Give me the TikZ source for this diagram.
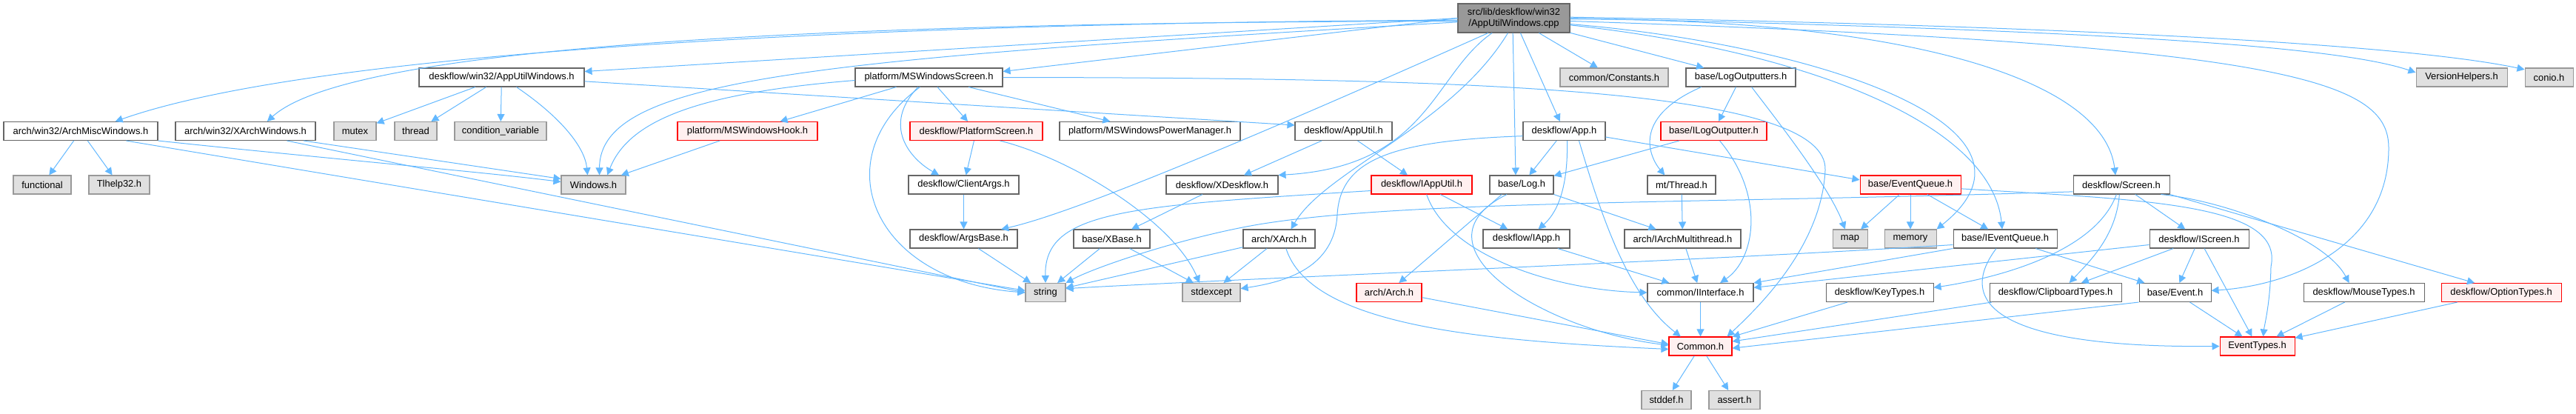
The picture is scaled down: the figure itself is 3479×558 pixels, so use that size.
\documentclass[tikz,border=0pt]{standalone}
\usepackage{fontspec}
\setmainfont{Liberation Sans}
\usepackage{tikz}
\usetikzlibrary{arrows.meta}
\definecolor{EdgeBlue}{RGB}{99,184,255}
\definecolor{BoxLine}{RGB}{102,102,102}
\definecolor{SysFill}{RGB}{224,224,224}
\definecolor{SysLine}{RGB}{153,153,153}
\definecolor{CutFill}{RGB}{255,240,240}
\definecolor{CutLine}{RGB}{255,0,0}
\definecolor{RootFill}{RGB}{153,153,153}

\begin{document}
\begin{tikzpicture}[x=0.75pt, y=-0.75pt,
    hdr/.style={rectangle, draw=BoxLine, fill=white, line width=0.8pt, minimum height=18.75pt, inner xsep=1pt, inner ysep=0pt, font=\fontsize{9.7}{11.25}\selectfont},
    sys/.style={hdr, draw=SysLine, fill=SysFill},
    cut/.style={hdr, draw=CutLine, fill=CutFill},
    rootbox/.style={hdr, fill=RootFill, minimum height=29.25pt, align=center},
    arr/.style={-{Triangle[length=7.5pt,width=7.5pt]}, line width=0.75pt, EdgeBlue}
  ]
  \useasboundingbox (0,0) rectangle (3479,558);

  \node[rootbox, minimum width=113.25pt] (root) at (2044.5,24.5) {src/lib/deskflow/win32\\/AppUtilWindows.cpp};

  \node[hdr, minimum width=167.25pt] (auwh) at (677.5,104.5) {deskflow/win32/AppUtilWindows.h};
  \node[hdr, minimum width=149.25pt] (msws) at (1254.5,104.5) {platform/MSWindowsScreen.h};
  \node[sys, minimum width=109.5pt] (const) at (2180,104.5) {common/Constants.h};
  \node[hdr, minimum width=111pt] (lout) at (2351,104.5) {base/LogOutputters.h};
  \node[sys, minimum width=92.25pt] (verh) at (3324.5,104.5) {VersionHelpers.h};
  \node[sys, minimum width=48.75pt] (conio) at (3442.5,104.5) {conio.h};

  \node[hdr, minimum width=156pt] (am) at (109,177) {arch/win32/ArchMiscWindows.h};
  \node[hdr, minimum width=141.75pt] (xaw) at (331.5,177) {arch/win32/XArchWindows.h};
  \node[sys, minimum width=42.75pt] (mutex) at (479.5,177) {mutex};
  \node[sys, minimum width=42.75pt] (thread) at (561.5,177) {thread};
  \node[sys, minimum width=93pt] (condvar) at (676,177) {condition\_variable};
  \node[cut, minimum width=141.75pt] (hook) at (1009.5,177) {platform/MSWindowsHook.h};
  \node[cut, minimum width=134.25pt] (ps) at (1318.5,177) {deskflow/PlatformScreen.h};
  \node[hdr, minimum width=183pt] (pm) at (1553,177) {platform/MSWindowsPowerManager.h};
  \node[hdr, minimum width=98.25pt] (au) at (1814.5,177) {deskflow/AppUtil.h};
  \node[hdr, minimum width=83.25pt] (app) at (2112.5,177) {deskflow/App.h};
  \node[cut, minimum width=107.25pt] (ilo) at (2314.5,177) {base/ILogOutputter.h};

  \node[sys, minimum width=58.5pt] (func) at (57,249.5) {functional};
  \node[sys, minimum width=61.5pt] (tlh) at (161,249.5) {Tlhelp32.h};
  \node[sys, minimum width=65.25pt] (win) at (801.5,249.5) {Windows.h};
  \node[hdr, minimum width=111.75pt] (ca) at (1301.5,249.5) {deskflow/ClientArgs.h};
  \node[hdr, minimum width=113.25pt] (xdf) at (1650.5,249.5) {deskflow/XDeskflow.h};
  \node[cut, minimum width=102pt] (iau) at (1920,249.5) {deskflow/IAppUtil.h};
  \node[hdr, minimum width=64.5pt] (log) at (2055,249.5) {base/Log.h};
  \node[hdr, minimum width=69pt] (thr) at (2271,249.5) {mt/Thread.h};
  \node[cut, minimum width=102pt] (eq) at (2580,249.5) {base/EventQueue.h};
  \node[hdr, minimum width=97.5pt] (scr) at (2865,249.5) {deskflow/Screen.h};

  \node[hdr, minimum width=108.75pt] (ab) at (1301.5,322.5) {deskflow/ArgsBase.h};
  \node[hdr, minimum width=77.25pt] (xb) at (1501.5,322.5) {base/XBase.h};
  \node[hdr, minimum width=72.75pt] (xa) at (1727.5,322.5) {arch/XArch.h};
  \node[hdr, minimum width=87.75pt] (iapp) at (2061.5,322.5) {deskflow/IApp.h};
  \node[hdr, minimum width=117.75pt] (iam) at (2272.5,322.5) {arch/IArchMultithread.h};
  \node[sys, minimum width=35.25pt] (map) at (2498.5,322.5) {map};
  \node[sys, minimum width=52.5pt] (mem) at (2580,322.5) {memory};
  \node[hdr, minimum width=105pt] (ieq) at (2708,322.5) {base/IEventQueue.h};
  \node[hdr, minimum width=100.5pt] (isc) at (2970,322.5) {deskflow/IScreen.h};

  \node[sys, minimum width=40.5pt] (str) at (1412,395) {string};
  \node[sys, minimum width=58.5pt] (sexc) at (1636,395) {stdexcept};
  \node[cut, minimum width=66pt] (arch) at (1876,395) {arch/Arch.h};
  \node[hdr, minimum width=107.25pt] (iif) at (2296.5,395) {common/IInterface.h};
  \node[hdr, minimum width=108.75pt] (kt) at (2538.5,395) {deskflow/KeyTypes.h};
  \node[hdr, minimum width=133.5pt] (cbt) at (2776,395) {deskflow/ClipboardTypes.h};
  \node[hdr, minimum width=72.75pt] (ev) at (2937.5,395) {base/Event.h};
  \node[hdr, minimum width=122.25pt] (mouse) at (3192.5,395) {deskflow/MouseTypes.h};
  \node[cut, minimum width=121.5pt] (opt) at (3378,395) {deskflow/OptionTypes.h};

  \node[cut, minimum width=63.75pt] (com) at (2296.5,467.5) {Common.h};
  \node[cut, minimum width=75.75pt] (evt) at (3048.5,467.5) {EventTypes.h};

  \node[sys, minimum width=50.25pt] (sdd) at (2250.5,540) {stddef.h};
  \node[sys, minimum width=51.75pt] (ast) at (2342.5,540) {assert.h};

  \draw[arr] ([yshift=-2pt]root.west) .. controls (1300,30) and (450,60) .. ([xshift=35pt]am.north);
  \draw[arr] ([yshift=-3pt]root.west) .. controls (1200,30) and (480,55) .. ([xshift=22pt]xaw.north);
  \draw[arr] (root.west) -- ([yshift=6pt]auwh.east);
  \draw[arr] (root.west) -- ([yshift=6pt]msws.east);
  \draw[arr] ([yshift=-4pt]root.west) .. controls (1100,80) and (810,105) .. ([xshift=6pt]win.north);
  \draw[arr] ([xshift=-26pt]root.south) .. controls (1650,205) and (1440,290) .. ([xshift=38pt]ab.north);
  \draw[arr] ([xshift=-22pt]root.south) .. controls (1935,100) and (1930,225) .. (xdf.north east);
  \draw[arr] ([xshift=-6pt]root.south) .. controls (1960,170) and (1790,230) .. ([xshift=12pt]xa.north);
  \draw[arr] ([xshift=-1pt]root.south) -- ([xshift=-6pt]log.north);
  \draw[arr] (root) -- (app);
  \draw[arr] (root) -- (const);
  \draw[arr] (root) -- (lout);
  \draw[arr] ([yshift=-6pt]root.east) .. controls (2450,60) and (2790,170) .. (mem.north east);
  \draw[arr] ([yshift=-7pt]root.east) .. controls (2450,70) and (2690,170) .. ([xshift=-3pt]ieq.north);
  \draw[arr] ([yshift=-1pt]root.east) .. controls (2550,25) and (2840,100) .. ([xshift=-6pt]scr.north);
  \draw[arr] (root.east) .. controls (2800,40) and (3150,60) .. ([yshift=5pt]verh.west);
  \draw[arr] ([yshift=1pt]root.east) .. controls (2800,35) and (3250,60) .. ([yshift=8pt]conio.west);
  \draw[arr] ([yshift=-3pt]root.east) .. controls (3100,60) and (3226,110) .. (3226,200) .. controls (3226,330) and (3100,385) .. ([yshift=2pt]ev.east);

  \draw[arr] (auwh) -- (mutex);
  \draw[arr] (auwh) -- (thread);
  \draw[arr] (auwh) -- (condvar);
  \draw[arr] ([xshift=15pt]auwh.south) .. controls (760,160) and (790,200) .. ([xshift=-6pt]win.north);
  \draw[arr] ([yshift=-4pt]auwh.east) -- ([yshift=6pt]au.west);

  \draw[arr] (am) -- (func);
  \draw[arr] (am) -- (tlh);
  \draw[arr] (am.south east) .. controls (450,215) and (650,232) .. ([yshift=3pt]win.west);
  \draw[arr] ([xshift=46pt]am.south) -- ([yshift=2pt]str.west);
  \draw[arr] ([xshift=59pt]xaw.south) -- ([yshift=6pt]win.west);
  \draw[arr] ([xshift=42pt]xaw.south) -- (str.west);

  \draw[arr] ([yshift=-3pt]msws.west) .. controls (950,125) and (850,160) .. ([xshift=14pt]win.north);
  \draw[arr] (msws) -- (hook);
  \draw[arr] (msws) -- (ps);
  \draw[arr] (msws) -- (pm);
  \draw[arr] ([xshift=-11pt]msws.south) .. controls (1190,170) and (1230,215) .. ([xshift=-25pt]ca.north);
  \draw[arr] ([xshift=-9pt]msws.south) .. controls (1110,215) and (1180,380) .. (str.west);
  \draw[arr] (msws.east) .. controls (2000,105) and (2470,120) .. (2465,230) .. controls (2460,330) and (2380,410) .. ([xshift=27pt]com.north);

  \draw[arr] (ps) -- (ca);
  \draw[arr] ([xshift=24pt]ps.south) .. controls (1450,215) and (1585,300) .. ([xshift=-12pt]sexc.north);
  \draw[arr] (ca) -- (ab);
  \draw[arr] (ab) -- (str);
  \draw[arr] (hook) -- (win);

  \draw[arr] (au) -- (xdf);
  \draw[arr] (au) -- (iau);
  \draw[arr] (xdf) -- (xb);
  \draw[arr] (xb) -- (str);
  \draw[arr] (xb) -- (sexc);
  \draw[arr] (xa) -- (str);
  \draw[arr] (xa) -- (sexc);
  \draw[arr] ([xshift=7pt]xa.south) .. controls (1770,440) and (2000,460) .. ([yshift=-3pt]com.west);

  \draw[arr] ([yshift=-6pt]iau.west) .. controls (1520,278) and (1410,285) .. (str.north);
  \draw[arr] (iau) -- (iapp);
  \draw[arr] ([xshift=5pt]iau.south) .. controls (1955,345) and (2100,392) .. (iif.west);

  \draw[arr] ([xshift=-20pt]log.south) -- ([xshift=10pt]arch.north);
  \draw[arr] (log.south east) -- ([xshift=-27pt]iam.north);
  \draw[arr] ([xshift=-15pt]log.south) .. controls (1900,330) and (2080,445) .. ([yshift=1pt]com.west);

  \draw[arr] ([yshift=-5pt]app.west) .. controls (1880,190) and (1810,215) .. (1806,290) .. controls (1802,360) and (1740,380) .. ([yshift=4pt]sexc.east);
  \draw[arr] (app) -- (log);
  \draw[arr] ([xshift=3pt]app.south) .. controls (2118,260) and (2100,290) .. ([xshift=12pt]iapp.north);
  \draw[arr] ([xshift=15pt]app.south) .. controls (2165,300) and (2200,400) .. ([xshift=-20pt]com.north);
  \draw[arr] ([yshift=-6pt]app.east) -- ([yshift=5pt]eq.west);

  \draw[arr] (lout) -- (ilo);
  \draw[arr] ([xshift=-40pt]lout.south) .. controls (2200,160) and (2230,215) .. ([xshift=-17pt]thr.north);
  \draw[arr] ([xshift=11pt]lout.south) .. controls (2390,150) and (2470,250) .. ([xshift=-5pt]map.north);
  \draw[arr] (ilo) -- (log);
  \draw[arr] ([xshift=6pt]ilo.south) .. controls (2385,265) and (2370,350) .. ([xshift=20pt]iif.north);

  \draw[arr] (thr) -- (iam);
  \draw[arr] (iam) -- (iif);
  \draw[arr] (iapp) -- (iif);
  \draw[arr] (iif) -- (com);
  \draw[arr] ([yshift=-5pt]arch.east) -- ([yshift=2pt]com.west);

  \draw[arr] (eq) -- (map);
  \draw[arr] (eq) -- (mem);
  \draw[arr] (eq) -- (ieq);
  \draw[arr] ([yshift=-4pt]eq.east) .. controls (2900,270) and (3085,275) .. (3067,360) .. controls (3066,410) and (3058,440) .. ([xshift=6pt]evt.north);

  \draw[arr] ([yshift=-6pt]ieq.west) .. controls (2300,352) and (1700,375) .. ([yshift=4pt]str.east);
  \draw[arr] (ieq.south west) -- (iif.north east);
  \draw[arr] (ieq) -- (ev);
  \draw[arr] ([xshift=-9pt]ieq.south) .. controls (2640,410) and (2700,470) .. (evt.west);

  \draw[arr] ([yshift=-7pt]scr.west) .. controls (2300,275) and (1900,270) .. (1700,303) .. controls (1600,320) and (1480,360) .. (str.north east);
  \draw[arr] (scr) -- (isc);
  \draw[arr] ([xshift=-5pt]scr.south) .. controls (2830,340) and (2700,375) .. ([yshift=5pt]kt.east);
  \draw[arr] ([xshift=-2pt]scr.south) .. controls (2858,320) and (2820,355) .. ([xshift=14pt]cbt.north);
  \draw[arr] ([xshift=40pt]scr.south) .. controls (3000,270) and (3140,320) .. ([xshift=-15pt]mouse.north);
  \draw[arr] (scr.south east) -- ([xshift=-27pt]opt.north);

  \draw[arr] (isc) -- (cbt);
  \draw[arr] (isc) -- (ev);
  \draw[arr] (isc) -- (evt);
  \draw[arr] ([yshift=-6pt]isc.west) -- ([yshift=5pt]iif.east);

  \draw[arr] (ev.south west) -- ([yshift=-2pt]com.east);
  \draw[arr] (ev) -- (evt);
  \draw[arr] (kt) -- (com);
  \draw[arr] (cbt) -- (com);
  \draw[arr] (mouse) -- (evt);
  \draw[arr] (opt) -- (evt);
  \draw[arr] (com) -- (sdd);
  \draw[arr] (com) -- (ast);
\end{tikzpicture}
\end{document}
